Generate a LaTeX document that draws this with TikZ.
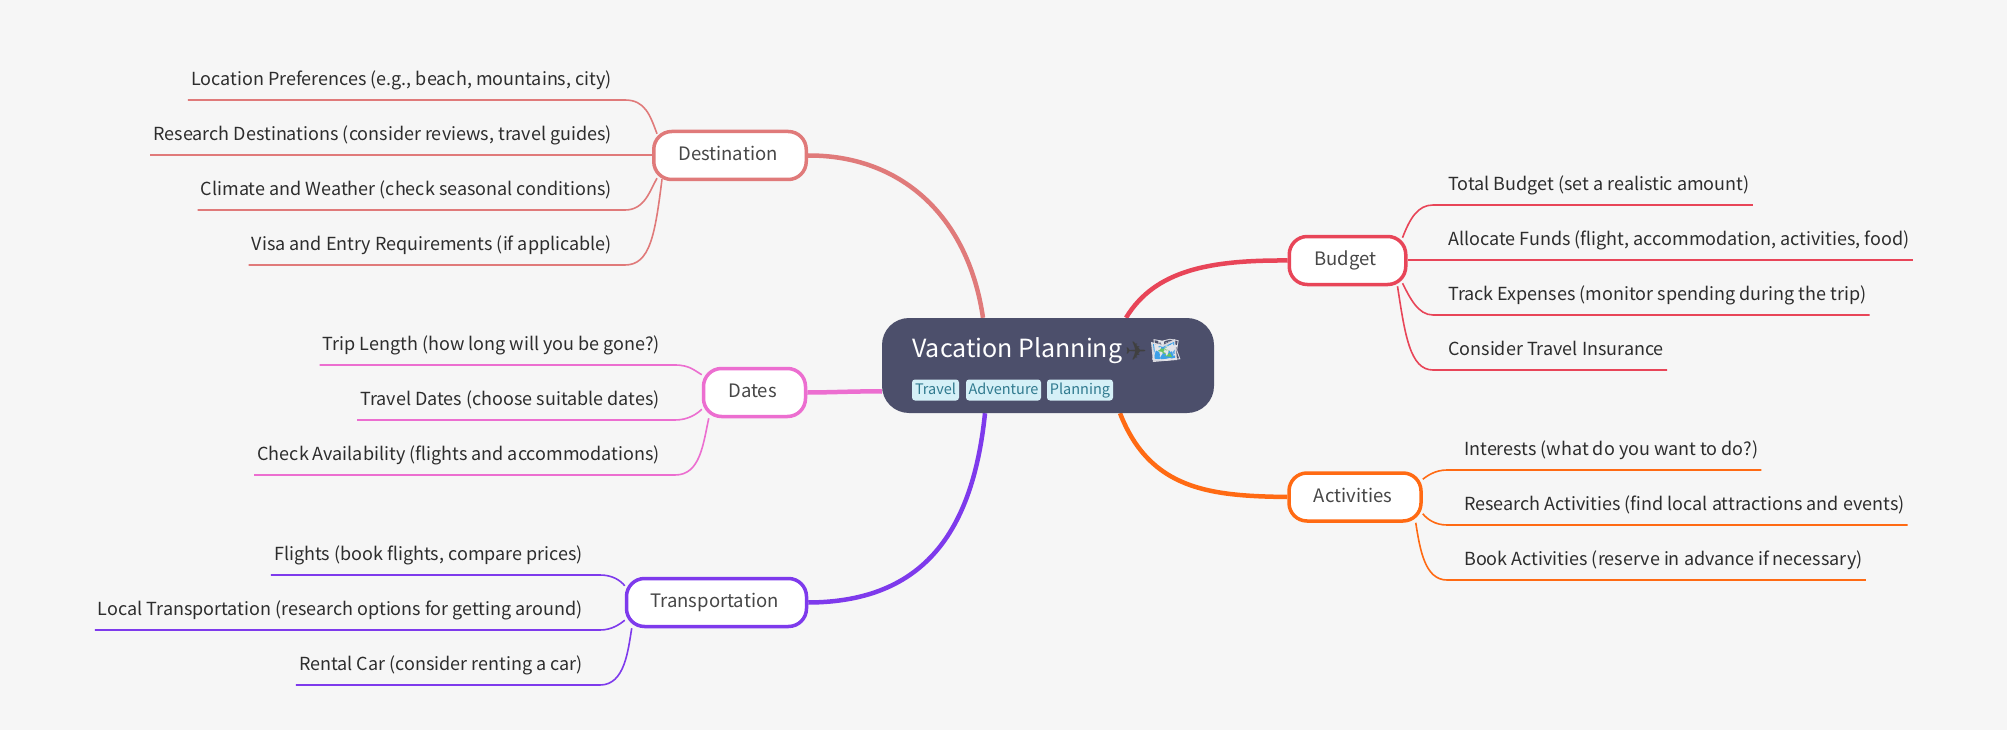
\documentclass[tikz,border=0pt]{standalone}
\usepackage{fontspec}
\setmainfont{Noto Sans CJK SC}
\newfontfamily\emojifont{Noto Emoji}
\newfontfamily\symbolfont{DejaVu Sans}
\usetikzlibrary{backgrounds}
\definecolor{pagegray}{RGB}{246,246,246}
\definecolor{rootblue}{RGB}{76,79,107}
\definecolor{tagblue}{RGB}{213,240,247}
\definecolor{tagtext}{RGB}{48,122,143}
\definecolor{leafgray}{RGB}{45,45,45}
\definecolor{mainred}{RGB}{224,122,122}
\definecolor{mainrose}{RGB}{232,69,88}
\definecolor{mainpink}{RGB}{236,110,208}
\definecolor{mainorange}{RGB}{255,106,19}
\definecolor{mainpurple}{RGB}{126,58,236}
\definecolor{mapsea}{RGB}{60,160,232}
\definecolor{mapland}{RGB}{104,196,96}
\tikzset{
  x=1pt,y=-1pt,
  mainnode/.style={draw,line width=3.5pt,fill=white,rounded corners=18pt,inner sep=0pt,minimum height=48pt,text height=15.5pt,text depth=5pt,font=\fontsize{18.5}{22}\selectfont,text=black!72,execute at end node={\hspace*{4pt}}},
  mainline/.style={line width=4.5pt},
  leafnode/.style={inner xsep=3pt,inner ysep=7.5pt,text depth=7pt,font=\fontsize{18}{22}\selectfont,text=leafgray},
  leafline/.style={line width=1.6pt},
  tagnode/.style={fill=tagblue,rounded corners=3pt,inner sep=0pt,minimum height=21pt,text height=13pt,text depth=4pt,font=\fontsize{14.5}{18}\selectfont,text=tagtext},
}
\begin{document}
\begin{tikzpicture}
\useasboundingbox (0,0) rectangle (2007,730);

% root and main topics
\node[fill=rootblue,rounded corners=27pt,minimum width=332pt,minimum height=95pt,inner sep=0pt] (root) at (1048,365.5) {};
\node[mainnode,draw=mainred,minimum width=152.5pt] (destination) at (730,155.5) {Destination};
\node[mainnode,draw=mainrose,minimum width=116.5pt] (budget) at (1347.5,260.5) {Budget};
\node[mainnode,draw=mainpink,minimum width=102pt] (dates) at (754.5,392.5) {Dates};
\node[mainnode,draw=mainorange,minimum width=132pt] (activities) at (1355,497) {Activities};
\node[mainnode,draw=mainpurple,minimum width=180pt] (transport) at (716.5,602.5) {Transportation};

% title row
\fill[white!78!rootblue] (1151,342) -- (1163,345) -- (1175,339) -- (1177,360) -- (1164,361) -- (1153,362) -- cycle;
\fill[mapsea] (1153,344) -- (1163,347) -- (1174,342) -- (1175,358) -- (1164,359) -- (1155,360) -- cycle;
\fill[mapland] (1157,347) -- (1163,349) -- (1168,346) -- (1171,349) -- (1165,354) -- (1159,352) -- cycle;
\fill[mapland] (1164,356) -- (1170,353) -- (1172,357) -- cycle;
\node[anchor=base west,inner sep=0pt,text=white,font=\fontsize{25}{30}\selectfont] (title) at (912,357.5) {Vacation Planning};
\node[anchor=base west,inner sep=0pt,text=black!75,font=\fontsize{26}{30}\selectfont\symbolfont] (plane) at (1125,360) {✈};
\node[anchor=base west,inner sep=0pt,text=white!85!rootblue,font=\fontsize{24}{28}\selectfont\emojifont] (mapglyph) at (1151,358.5) {🗺};
\node[tagnode,minimum width=47pt] (travel) at (935.5,390) {Travel};
\node[tagnode,minimum width=75pt] (adventure) at (1003.5,390) {Adventure};
\node[tagnode,minimum width=66pt] (planning) at (1080,390) {Planning};

% left leaves
\node[leafnode,anchor=south east] (d1) at (615,100) {Location Preferences (e.g., beach, mountains, city)};
\node[leafnode,anchor=south east] (d2) at (615,155) {Research Destinations (consider reviews, travel guides)};
\node[leafnode,anchor=south east] (d3) at (615,210) {Climate and Weather (check seasonal conditions)};
\node[leafnode,anchor=south east] (d4) at (615,265) {Visa and Entry Requirements (if applicable)};
\node[leafnode,anchor=south east] (t1) at (663,365) {Trip Length (how long will you be gone?)};
\node[leafnode,anchor=south east] (t2) at (663,420) {Travel Dates (choose suitable dates)};
\node[leafnode,anchor=south east] (t3) at (663,475) {Check Availability (flights and accommodations)};
\node[leafnode,anchor=south east] (p1) at (586,575) {Flights (book flights, compare prices)};
\node[leafnode,anchor=south east] (p2) at (586,630) {Local Transportation (research options for getting around)};
\node[leafnode,anchor=south east] (p3) at (586,685) {Rental Car (consider renting a car)};

% right leaves
\node[leafnode,anchor=south west] (b1) at (1445,205) {Total Budget (set a realistic amount)};
\node[leafnode,anchor=south west] (b2) at (1445,260) {Allocate Funds (flight, accommodation, activities, food)};
\node[leafnode,anchor=south west] (b3) at (1445,315) {Track Expenses (monitor spending during the trip)};
\node[leafnode,anchor=south west] (b4) at (1445,370) {Consider Travel Insurance};
\node[leafnode,anchor=south west] (a1) at (1461,470) {Interests (what do you want to do?)};
\node[leafnode,anchor=south west] (a2) at (1461,525) {Research Activities (find local attractions and events)};
\node[leafnode,anchor=south west] (a3) at (1461,580) {Book Activities (reserve in advance if necessary)};

\begin{scope}[on background layer]
\fill[pagegray] (0,0) rectangle (2007,730);

% main connectors
\draw[mainline,mainred] (destination.east) .. controls (900,155) and (968,215) .. ([xshift=-65pt]root.north);
\draw[mainline,mainpink] (dates.east) .. controls (830,392.5) and (860,391) .. ([yshift=-26pt]root.west);
\draw[mainline,mainpurple] (transport.east) .. controls (925,602) and (973,530) .. ([xshift=-63pt]root.south);
\draw[mainline,mainrose] (budget.west) .. controls (1210,260) and (1155,270) .. ([xshift=78pt]root.north);
\draw[mainline,mainorange] (activities.west) .. controls (1210,496) and (1150,490) .. ([xshift=72pt]root.south);

% destination leaves
\draw[leafline,mainred] (d1.south west) -- ([xshift=10pt]d1.south east) .. controls (645,100) and (650,115) .. ([xshift=5pt,yshift=-4pt]destination.north west);
\draw[leafline,mainred] (d2.south west) -- ([yshift=.5pt]destination.west);
\draw[leafline,mainred] (d3.south west) -- ([xshift=10pt]d3.south east) .. controls (645,210) and (650,190) .. ([xshift=5pt,yshift=3pt]destination.south west);
\draw[leafline,mainred] (d4.south west) -- ([xshift=10pt]d4.south east) .. controls (650,265) and (655,235) .. ([xshift=10pt,yshift=2pt]destination.south west);

% budget leaves
\draw[leafline,mainrose] (b1.south east) -- ([xshift=-12pt]b1.south west) .. controls (1418,205) and (1410,218) .. ([xshift=-5pt,yshift=-3pt]budget.north east);
\draw[leafline,mainrose] (b2.south east) -- ([yshift=.5pt]budget.east);
\draw[leafline,mainrose] (b3.south east) -- ([xshift=-12pt]b3.south west) .. controls (1418,315) and (1410,298) .. ([xshift=-5pt,yshift=3pt]budget.south east);
\draw[leafline,mainrose] (b4.south east) -- ([xshift=-12pt]b4.south west) .. controls (1410,370) and (1405,335) .. ([xshift=-10pt]budget.south east);

% dates leaves
\draw[leafline,mainpink] (t1.south west) -- ([xshift=12pt]t1.south east) .. controls (690,365) and (695,371) .. ([yshift=-8pt]dates.north west);
\draw[leafline,mainpink] (t2.south west) -- ([xshift=12pt]t2.south east) .. controls (688,420) and (697,414) .. ([yshift=9pt]dates.south west);
\draw[leafline,mainpink] (t3.south west) -- ([xshift=12pt]t3.south east) .. controls (700,475) and (703,445) .. ([xshift=7pt]dates.south west);

% transport leaves
\draw[leafline,mainpurple] (p1.south west) -- ([xshift=14pt]p1.south east) .. controls (612,575) and (620,580) .. ([yshift=-9pt]transport.north west);
\draw[leafline,mainpurple] (p2.south west) -- ([xshift=14pt]p2.south east) .. controls (612,630) and (620,624) .. ([yshift=8pt]transport.south west);
\draw[leafline,mainpurple] (p3.south west) -- ([xshift=14pt]p3.south east) .. controls (625,685) and (628,650) .. ([xshift=7pt]transport.south west);

% activities leaves
\draw[leafline,mainorange] (a1.south east) -- ([xshift=-14pt]a1.south west) .. controls (1435,470) and (1427,476) .. ([yshift=-8pt]activities.north east);
\draw[leafline,mainorange] (a2.south east) -- ([xshift=-14pt]a2.south west) .. controls (1435,525) and (1427,519) .. ([yshift=9pt]activities.south east);
\draw[leafline,mainorange] (a3.south east) -- ([xshift=-14pt]a3.south west) .. controls (1425,580) and (1420,550) .. ([xshift=-7pt]activities.south east);
\end{scope}

\end{tikzpicture}
\end{document}
